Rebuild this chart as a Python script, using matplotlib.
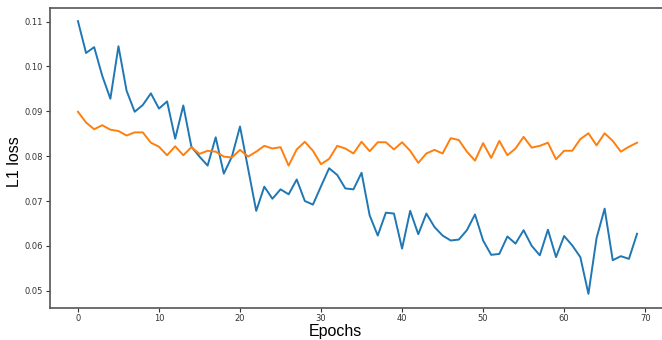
import numpy as np
import matplotlib
matplotlib.use("Agg")
from matplotlib import pyplot as plt

# L1 loss per epoch for the two runs
epochs = np.arange(70)
loss_blue = [0.1101, 0.1030, 0.1043, 0.0979, 0.0928, 0.1045, 0.0946, 0.0899, 0.0914, 0.0940,
             0.0906, 0.0922, 0.0839, 0.0913, 0.0821, 0.0799, 0.0779, 0.0842, 0.0761, 0.0799,
             0.0866, 0.0772, 0.0678, 0.0732, 0.0705, 0.0726, 0.0715, 0.0748, 0.0700, 0.0692,
             0.0733, 0.0773, 0.0758, 0.0728, 0.0726, 0.0763, 0.0668, 0.0623, 0.0674, 0.0672,
             0.0594, 0.0678, 0.0626, 0.0672, 0.0642, 0.0623, 0.0612, 0.0614, 0.0635, 0.0670,
             0.0612, 0.0580, 0.0582, 0.0621, 0.0605, 0.0635, 0.0600, 0.0579, 0.0636, 0.0575,
             0.0622, 0.0601, 0.0575, 0.0493, 0.0617, 0.0683, 0.0568, 0.0577, 0.0571, 0.0627]
loss_orange = [0.0899, 0.0875, 0.0860, 0.0869, 0.0859, 0.0856, 0.0846, 0.0853, 0.0853, 0.0830,
               0.0821, 0.0802, 0.0822, 0.0802, 0.0820, 0.0805, 0.0812, 0.0810, 0.0799, 0.0797,
               0.0814, 0.0799, 0.0810, 0.0823, 0.0817, 0.0820, 0.0779, 0.0815, 0.0832, 0.0812,
               0.0782, 0.0794, 0.0823, 0.0817, 0.0806, 0.0832, 0.0811, 0.0831, 0.0831, 0.0815,
               0.0831, 0.0812, 0.0785, 0.0806, 0.0814, 0.0806, 0.0840, 0.0836, 0.0810, 0.0790,
               0.0829, 0.0796, 0.0834, 0.0802, 0.0817, 0.0843, 0.0819, 0.0823, 0.0830, 0.0793,
               0.0812, 0.0812, 0.0838, 0.0851, 0.0824, 0.0851, 0.0834, 0.0810, 0.0821, 0.0830]

fig = plt.figure(figsize=(6.62, 3.40), dpi=100)
ax = fig.add_axes([50 / 662, 1 - 307.5 / 340, 615 / 662, 300 / 340])
ax.plot(epochs, loss_blue, color="#1f77b4", lw=1.4)
ax.plot(epochs, loss_orange, color="#ff7f0e", lw=1.4)

ax.set_yticks([0.05, 0.06, 0.07, 0.08, 0.09, 0.10, 0.11])
ax.set_xticks([0, 10, 20, 30, 40, 50, 60, 70])
ax.tick_params(labelsize=6, length=3, width=0.8, colors="#333333", pad=2)
for s in ax.spines.values():
    s.set_color("#555555")
    s.set_linewidth(1.2)

ax.set_xlabel("Epochs", fontsize=11.5, family="Liberation Sans")
ax.xaxis.set_label_coords((335 - 50) / 615, (307.5 - 324) / 300)
ax.set_ylabel("L1 loss", fontsize=11.5, family="Liberation Sans")
ax.yaxis.set_label_coords((22 - 50) / 615, (307.5 - 162) / 300)

fig.savefig("out.png", dpi=100)
